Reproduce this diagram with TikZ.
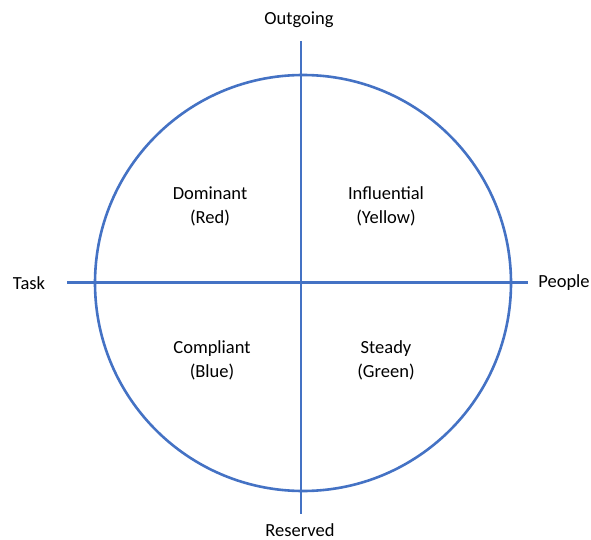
\documentclass[tikz,border=0pt]{standalone}
\usepackage{fontspec}
\setmainfont{Carlito}
\begin{document}
\begin{tikzpicture}[x=1pt,y=-1pt,
  axis/.style={draw=discblue,line width=2.6pt},
  lbl/.style={font=\fontsize{18.5}{24}\selectfont,align=center,inner sep=0pt,text=black}]
\definecolor{discblue}{HTML}{4472C4}
\useasboundingbox (0,0) rectangle (591,540);
\draw[axis] (303,283) circle (208);
\coordinate (top) at (301,41);
\coordinate (bot) at (301,514);
\coordinate (lft) at (67,282.5);
\coordinate (rgt) at (528,282.5);
\draw[axis] (top) -- (bot);
\draw[axis] (lft) -- (rgt);
\node[lbl] (out) at (299,20) {Outgoing};
\node[lbl] (res) at (300,530) {Reserved};
\node[lbl] (task) at (29,283) {Task};
\node[lbl] (ppl) at (564,283) {People};
\node[lbl] (dom) at (210,206) {Dominant\\(Red)};
\node[lbl] (inf) at (386,206) {Influential\\(Yellow)};
\node[lbl] (com) at (212,360) {Compliant\\(Blue)};
\node[lbl] (ste) at (386,360) {Steady\\(Green)};
\end{tikzpicture}
\end{document}
